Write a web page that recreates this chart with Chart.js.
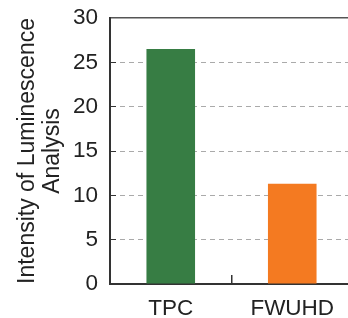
<!DOCTYPE html>
<html>
<head>
<meta charset="utf-8">
<script src="https://cdn.jsdelivr.net/npm/chart.js@4"></script>
<style>
  html, body { margin: 0; padding: 0; background: #fff; overflow: hidden; }
  #wrap { width: 353px; height: 318px; }
</style>
</head>
<body>
<div id="wrap"><canvas id="barChart" width="353" height="318"></canvas></div>
<script>
const categories = ['TPC', 'FWUHD'];
const intensity = [26.5, 11.3];
const barColors = ['#377d44', '#f47a21'];
const yTicks = [0, 5, 10, 15, 20, 25, 30];
const yTitle = ['Intensity of Luminescence', 'Analysis'];

const font = { family: '"Liberation Sans", Arial, sans-serif', size: 22.5 };

// keep the label padding from pushing the plot area around
function noPad(scale) {
    scale.paddingTop = 0;
    scale.paddingBottom = 0;
    scale.paddingLeft = 0;
    scale.paddingRight = 0;
}

const ctx = document.getElementById('barChart').getContext('2d');
const chart = new Chart(ctx, {
    type: 'bar',
    data: {
        labels: categories,
        datasets: [{
            data: intensity,
            backgroundColor: barColors,
            borderWidth: 0,
            barPercentage: 0.4,
            categoryPercentage: 1.0
        }]
    },
    options: {
        responsive: false,
        animation: false,
        devicePixelRatio: 1,
        layout: { padding: { top: 18, right: 0, left: 0, bottom: 0 } },
        plugins: {
            legend: { display: false },
            tooltip: { enabled: false }
        },
        scales: {
            x: {
                position: 'bottom',
                grid: {
                    offset: true,
                    drawOnChartArea: false,
                    drawTicks: true,
                    tickLength: -9,
                    tickColor: '#333',
                    lineWidth: 1.5
                },
                border: { display: true, color: '#333', width: 2 },
                ticks: { color: '#222', font: font, padding: 20 },
                afterFit: (scale) => { scale.height = 34; noPad(scale); }
            },
            x2: {
                position: 'top',
                labels: categories,
                grid: { display: false },
                ticks: { display: false },
                border: { display: true, color: '#555', width: 1.5 },
                afterFit: (scale) => { scale.height = 0; noPad(scale); }
            },
            y: {
                min: 0,
                max: 30,
                afterBuildTicks: (scale) => { scale.ticks = yTicks.map(v => ({ value: v })); },
                grid: {
                    color: (c) => (c.tick && (c.tick.value === 0 || c.tick.value === 30)) ? 'rgba(0,0,0,0)' : '#aaaaaa',
                    lineWidth: 1,
                    drawTicks: true,
                    tickLength: -6,
                    tickColor: (c) => (c.tick && c.tick.value === 30) ? 'rgba(0,0,0,0)' : '#333'
                },
                border: { display: true, color: '#333', width: 2, dash: [5, 4] },
                ticks: { color: '#222', font: font, padding: 18 },
                title: {
                    display: true,
                    text: yTitle,
                    color: '#222',
                    font: { family: font.family, size: 23, lineHeight: 1.1 },
                    padding: { top: 15, bottom: 0 }
                },
                afterFit: (scale) => { scale.width = 110; noPad(scale); }
            }
        }
    }
});
</script>
</body>
</html>
